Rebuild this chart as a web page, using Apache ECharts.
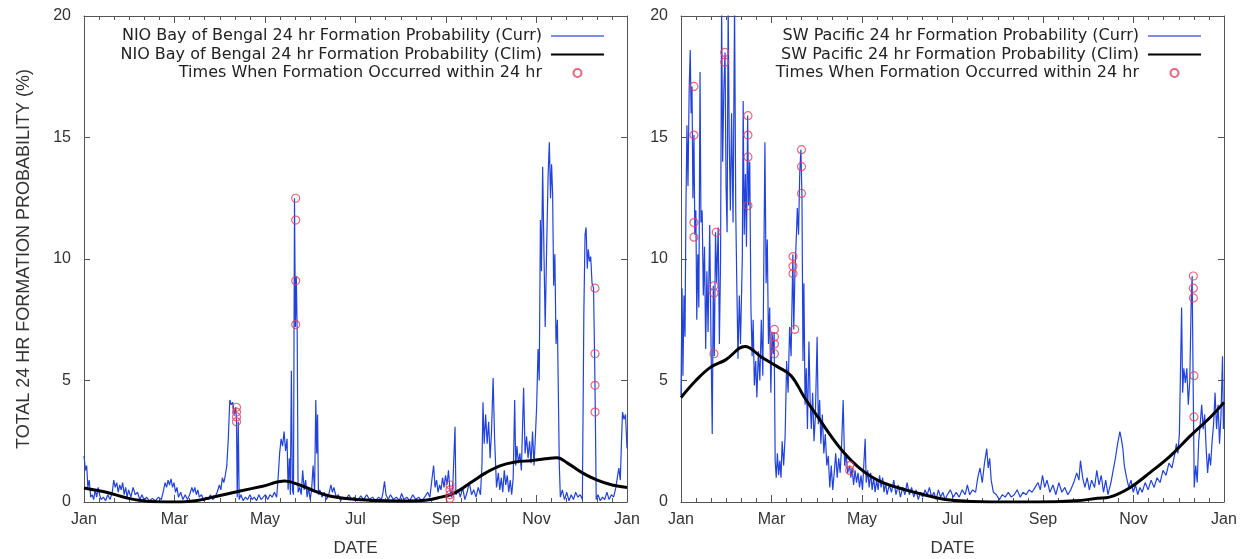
<!DOCTYPE html>
<html>
<head>
<meta charset="utf-8">
<title>24 hr Formation Probability</title>
<script src="https://cdn.jsdelivr.net/npm/echarts@6.0.0/dist/echarts.min.js"></script>
<style>
  html, body { margin: 0; padding: 0; background: #fff; }
  #chart { width: 1245px; height: 559px; }
</style>
</head>
<body>
<div id="chart"></div>
<script>
  // [day of year, probability %]
  const nioCurr = [
    [0, 1.9], [1, 1.3], [1.8, 1.5], [2.6, 0.6], [3.5, 0.9], [4.5, 0.2], [5.5, 0.3], [6.5, 0.1], [7.5, 0.5], [8.5, 0.2],
    [9.5, 0.6], [10.5, 0.3], [11.5, 0.1], [13, 0.2], [14.5, 0.05], [16, 0.3], [17.5, 0.1], [19, 0.4], [20, 0.9], [21, 0.6],
    [22, 0.8], [23, 0.4], [24, 0.7], [25, 0.5], [26, 0.8], [27, 0.3], [28, 0.6], [29, 0.2], [30, 0.5], [31.5, 0.2],
    [33, 0.6], [34.5, 0.3], [36, 0.4], [37.5, 0.1], [39, 0.3], [40.5, 0.05], [42, 0.2], [44, 0.05], [46, 0.15], [48, 0.05],
    [50, 0.2], [52, 0.1], [53.5, 0.5], [54.5, 0.8], [55.5, 0.6], [56.5, 0.9], [57.5, 0.7], [58.5, 0.95], [59.5, 0.6], [60.5, 0.8],
    [61.5, 0.4], [62.5, 0.6], [63.5, 0.2], [65, 0.4], [66.5, 0.1], [68, 0.3], [69.5, 0.1], [71, 0.3], [72.5, 0.6], [73.5, 0.4],
    [74.5, 0.6], [75.5, 0.3], [76.5, 0.5], [77.5, 0.2], [79, 0.3], [80.5, 0.05], [82, 0.2], [83.5, 0.1], [85, 0.3], [86.5, 0.1],
    [88, 0.2], [89.5, 0.4], [91, 0.7], [92, 0.5], [93, 1.0], [94, 0.8], [95, 1.1], [96, 1.5], [97, 2.6], [98, 4.2],
    [99, 4.0], [100, 4.1], [101, 3.6], [102, 3.9], [102.5, 3.4], [103, 0.2], [103.7, 3.3], [104.3, 0.1], [105.5, 0.3], [107, 0.05],
    [108.5, 0.2], [110, 0.1], [111.5, 0.3], [113, 0.1], [114.5, 0.2], [116, 0.05], [117.5, 0.3], [119, 0.1], [120.5, 0.2], [122, 0.3],
    [123.5, 0.1], [125, 0.3], [126.5, 0.2], [128, 0.4], [129.5, 0.2], [130.5, 1.0], [131.5, 2.0], [132.5, 2.6], [133.5, 2.3], [134.5, 2.9],
    [135.5, 2.1], [136.5, 2.6], [137.2, 0.5], [138, 1.8], [138.7, 0.3], [139.4, 5.4], [140.1, 0.5], [140.8, 0.3], [141.5, 12.5], [142.1, 7.2],
    [142.7, 9.3], [143.3, 7.0], [143.9, 0.4], [145, 0.6], [146, 0.3], [147, 1.3], [148, 0.5], [149, 0.9], [150, 0.2], [151, 0.6],
    [152, 0.1], [153, 0.5], [154, 1.5], [155, 0.4], [155.8, 4.2], [156.4, 2.0], [157, 3.6], [157.6, 0.3], [158.5, 0.5], [160, 0.2],
    [161.5, 0.4], [163, 0.1], [164.5, 0.3], [166, 0.7], [167, 0.4], [168, 0.6], [169.5, 0.2], [171, 0.3], [172.5, 0.05], [174, 0.2],
    [176, 0.1], [178, 0.3], [180, 0.1], [182, 0.2], [184, 0.05], [186, 0.25], [188, 0.1], [190, 0.3], [192, 0.1], [194, 0.2],
    [196, 0.05], [198, 0.2], [200, 0.1], [201, 0.4], [202, 0.85], [203, 0.3], [204.5, 0.1], [206, 0.3], [208, 0.1], [210, 0.2],
    [212, 0.05], [213.5, 0.35], [215, 0.1], [217, 0.2], [219, 0.05], [221, 0.3], [223, 0.1], [225, 0.2], [227, 0.05], [229, 0.2],
    [231, 0.4], [232.5, 0.2], [234, 1.0], [235, 1.5], [236, 0.6], [237, 0.9], [238, 0.4], [239, 0.7], [240, 0.5], [241, 1.0],
    [242, 0.6], [243, 1.1], [244, 0.7], [245, 1.3], [246, 0.5], [247, 0.2], [248, 0.8], [249.4, 3.1], [250, 0.3], [251.5, 0.5],
    [253, 0.2], [254.5, 0.6], [256, 0.1], [257.5, 0.4], [259, 0.8], [260.5, 0.3], [262, 0.5], [263.5, 0.2], [265, 0.6], [266.5, 0.3],
    [267.5, 1.5], [268.2, 4.1], [269, 2.4], [270, 3.6], [271, 2.4], [272, 3.3], [273, 1.8], [274, 3.0], [275, 5.1], [276, 2.6],
    [277.3, 0.6], [278.5, 1.2], [279.5, 0.5], [280.5, 1.0], [281.5, 0.4], [282.5, 1.3], [283.5, 0.7], [284.5, 1.1], [285.5, 0.4], [286.5, 0.9],
    [287.5, 0.3], [288.5, 1.0], [289.5, 4.2], [290.2, 1.5], [291, 2.3], [292, 1.6], [293, 2.0], [294, 1.3], [295.5, 4.7], [296.5, 2.0],
    [297.5, 2.7], [298.5, 1.8], [299.5, 2.5], [300.5, 1.6], [301.5, 2.9], [302.5, 1.5], [303.5, 2.8], [304.3, 4.0], [305.2, 6.3], [306, 5.0],
    [306.8, 11.6], [307.5, 9.5], [308.3, 13.8], [309.2, 10.2], [310, 7.2], [311, 10.5], [312, 13.5], [312.8, 14.8], [313.6, 12.5], [314.3, 13.9],
    [315, 12.7], [315.7, 8.9], [316.5, 10.2], [317.3, 6.5], [318.2, 7.5], [318.8, 4.7], [319.5, 1.5], [320.2, 0.2], [321.5, 0.5], [323, 0.1],
    [324.5, 0.4], [326, 0.05], [327.5, 0.3], [329, 0.1], [330.5, 0.4], [332, 0.2], [333.5, 0.3], [335, 0.1], [336, 7.8], [336.8, 11.0],
    [337.5, 11.3], [338.3, 9.6], [339, 10.4], [339.8, 9.9], [340.6, 10.1], [341.5, 9.0], [342.5, 8.8], [343.2, 6.1], [343.7, 3.7], [344.3, 0.1],
    [345.5, 0.3], [347, 0.05], [348.5, 0.2], [350, 0.1], [351.5, 0.4], [353, 0.1], [354.5, 0.3], [356, 0.2], [357.5, 0.6], [358.5, 1.0],
    [359.5, 1.4], [360.5, 0.9], [361.3, 2.5], [362, 3.7], [363, 3.4], [364, 3.6], [365, 2.2]
  ];
  const nioClim = [
    [0, 0.58], [15, 0.4], [30, 0.15], [45, 0.02], [60, 0.0], [75, 0.05], [90, 0.25], [105, 0.45], [120, 0.65], [135, 0.86],
    [145, 0.7], [155, 0.45], [165, 0.25], [180, 0.12], [195, 0.06], [210, 0.04], [225, 0.05], [240, 0.2], [250, 0.4], [260, 0.8],
    [270, 1.2], [280, 1.5], [290, 1.65], [300, 1.7], [310, 1.78], [318, 1.82], [325, 1.6], [335, 1.2], [345, 0.9], [355, 0.7],
    [365, 0.6]
  ];
  const nioHits = [
    [102.5, 3.9], [102.5, 3.7], [102.5, 3.5], [102.5, 3.3],
    [142.3, 12.5], [142.3, 11.6], [142.3, 9.1], [142.3, 7.3],
    [246, 0.7], [246, 0.5], [246, 0.3], [246, 0.15],
    [343.5, 8.8], [343.5, 6.1], [343.5, 4.8], [343.5, 3.7]
  ];

  const swpCurr = [
    [0, 4.4], [0.7, 8.8], [1.3, 5.2], [2, 8.5], [2.7, 6.8], [3.3, 12.0], [4, 15.5], [4.7, 13.0], [5.5, 17.0], [6.2, 18.6],
    [6.8, 16.0], [7.4, 17.1], [8, 12.5], [8.7, 15.1], [9.3, 11.0], [10, 12.0], [10.6, 7.5], [11.3, 10.2], [12, 8.0], [12.8, 17.7],
    [13.4, 11.5], [14.2, 12.0], [15, 8.5], [15.8, 10.5], [16.6, 6.3], [17.4, 9.5], [18.2, 7.0], [19.3, 11.4], [20.2, 6.5], [21, 2.8],
    [21.7, 8.9], [22.4, 6.0], [23.2, 11.1], [24, 9.0], [25, 11.3], [25.8, 6.5], [26.6, 10.0], [27.3, 20.5], [28, 14.0], [28.8, 17.0],
    [29.6, 18.5], [30.3, 13.0], [31, 11.1], [31.7, 20.5], [32.4, 15.0], [33.2, 12.0], [34, 16.0], [35, 11.5], [36, 20.5], [36.8, 12.0],
    [37.5, 9.0], [38.3, 5.9], [39.2, 8.5], [40, 6.5], [41.2, 10.0], [41.8, 16.5], [42.5, 11.0], [43.3, 13.5], [44, 10.5], [44.8, 15.9],
    [45.4, 12.2], [46.2, 14.0], [47, 8.0], [47.8, 6.0], [48.5, 7.5], [49.3, 4.8], [50.2, 5.8], [51, 4.3], [52, 6.2], [53, 5.0],
    [54, 7.5], [55, 5.2], [56.4, 14.8], [57.2, 9.0], [58, 10.8], [58.8, 6.5], [59.6, 8.0], [60.4, 4.5], [61.2, 7.0], [62, 6.1],
    [62.6, 7.0], [63.3, 1.7], [64, 1.0], [64.8, 2.0], [65.6, 1.1], [66.4, 1.7], [67.2, 1.0], [68, 2.5], [69, 1.5], [70, 2.7],
    [71, 5.8], [72, 4.5], [73, 7.2], [74, 6.0], [75.2, 10.2], [75.8, 7.1], [76.6, 9.5], [77.4, 10.7], [78.2, 12.1], [79, 11.0],
    [79.8, 13.5], [80.6, 14.5], [81.3, 12.6], [82, 5.8], [82.6, 9.0], [83.4, 4.0], [84.2, 5.5], [85, 3.0], [86, 6.6], [86.8, 4.2],
    [87.6, 3.0], [88.5, 4.5], [89.4, 2.5], [90.3, 3.5], [91.5, 6.8], [92.3, 3.2], [93.2, 4.2], [94, 2.4], [95, 3.6], [96, 2.0],
    [97, 2.8], [98, 1.5], [99, 1.9], [100, 0.6], [101, 1.5], [102, 0.5], [103, 1.2], [104, 2.0], [105, 1.0], [106, 1.8],
    [107, 1.2], [108, 2.4], [109, 4.2], [110, 1.5], [111, 2.0], [112, 1.2], [113.4, 1.5], [114.2, 1.0], [115, 1.4], [116, 0.7],
    [117, 1.3], [118, 0.8], [119, 1.2], [120, 0.6], [121, 1.1], [122, 0.5], [123.8, 2.6], [124.5, 0.8], [125.5, 1.3], [126.5, 0.6],
    [127.5, 1.2], [128.5, 0.5], [129.5, 1.0], [130.5, 0.4], [131.5, 0.9], [132.5, 0.5], [133.5, 1.1], [134.5, 0.6], [135.5, 1.0], [136.5, 0.4],
    [137.5, 0.8], [138.5, 0.3], [140, 0.7], [141.5, 0.4], [143, 0.9], [144.5, 0.3], [146, 0.7], [147.5, 0.2], [149, 0.6], [150.5, 0.3],
    [152, 0.8], [153.5, 0.3], [155, 0.6], [156.5, 0.2], [158, 0.5], [159.5, 0.1], [161, 0.4], [162.5, 0.2], [164, 0.5], [165.5, 0.3],
    [167, 0.6], [168.5, 0.2], [170, 0.4], [171.5, 0.1], [173, 0.5], [174.5, 0.2], [176, 0.4], [177.5, 0.1], [179, 0.3], [181, 0.5],
    [183, 0.2], [185, 0.4], [187, 0.2], [189, 0.5], [191, 0.3], [192.5, 0.7], [194, 0.3], [196, 0.5], [198, 0.4], [199.5, 1.0],
    [201, 1.4], [202.5, 0.8], [204, 1.6], [205.5, 2.2], [206.5, 1.4], [207.5, 1.8], [208.5, 0.9], [210, 0.4], [212, 0.3], [214, 0.1],
    [216, 0.3], [218, 0.2], [220, 0.4], [222, 0.2], [224, 0.3], [226, 0.5], [228, 0.2], [230, 0.4], [232, 0.3], [234, 0.5],
    [236, 0.4], [238, 0.6], [240, 0.8], [241.5, 0.5], [243, 1.1], [244.5, 0.6], [246, 0.9], [248, 0.4], [250, 0.7], [252, 0.3],
    [254, 0.8], [256, 0.4], [258, 0.6], [260, 0.3], [262, 0.5], [264, 0.8], [266, 1.2], [267.5, 0.9], [268.5, 1.7], [270, 1.0],
    [271.5, 0.6], [273, 1.0], [274.5, 0.5], [276, 0.9], [278, 0.6], [279.5, 1.3], [281, 0.7], [282.5, 1.1], [284, 0.4], [285.5, 0.9],
    [287, 0.3], [289, 0.8], [290.5, 1.3], [292, 1.8], [293.5, 2.4], [295, 2.9], [296, 2.6], [297, 2.2], [298, 1.5], [299.5, 1.0],
    [301, 0.6], [302.5, 0.9], [304, 0.4], [305.5, 0.7], [307, 0.3], [308.5, 0.6], [310, 0.4], [312, 0.8], [314, 0.5], [316, 0.9],
    [318, 0.6], [320, 1.0], [322, 0.8], [324, 1.3], [326, 1.1], [328, 1.6], [330, 1.4], [332, 2.0], [333, 2.4], [334, 2.0],
    [335, 2.8], [336.5, 8.0], [337.2, 4.5], [338, 5.5], [339, 4.9], [340, 5.5], [341, 4.0], [342, 5.0], [343, 8.4], [343.6, 9.3],
    [344.2, 5.2], [345, 0.6], [346, 1.5], [347, 0.8], [348, 2.5], [349, 3.2], [350, 4.0], [351, 3.0], [352, 3.6], [353, 2.2],
    [354, 1.2], [355, 2.0], [356, 1.5], [357, 2.5], [358, 3.2], [359, 4.5], [360, 3.0], [361, 4.0], [362, 2.4], [363, 3.6],
    [364, 6.0], [364.6, 3.0], [365, 4.0]
  ];
  const swpClim = [
    [0, 4.3], [10, 5.0], [20, 5.55], [30, 5.85], [43, 6.4], [54, 5.97], [65, 5.56], [74, 5.2], [83, 4.3], [92, 3.5],
    [101, 2.7], [110, 2.0], [119, 1.45], [128, 1.04], [137, 0.77], [151, 0.5], [164, 0.29], [173, 0.16], [181, 0.08], [195, 0.02],
    [208, 0.0], [240, 0.0], [265, 0.05], [280, 0.15], [288, 0.2], [302, 0.6], [315, 1.2], [329, 1.9], [342, 2.7], [356, 3.5],
    [365, 4.1]
  ];
  const swpHits = [
    [8.7, 17.1], [8.7, 15.1], [8.7, 11.5], [8.7, 10.9],
    [22.2, 8.9], [22.2, 8.6], [22.2, 6.1], [23.7, 11.1],
    [29.4, 18.5], [29.4, 18.1],
    [45, 15.9], [45, 15.1], [45, 14.2], [45, 12.2],
    [62.8, 7.1], [62.8, 6.8], [62.8, 6.5], [62.8, 6.1],
    [75.3, 10.1], [75.3, 9.7], [75.3, 9.4], [76.4, 7.1],
    [81, 14.5], [81, 13.8], [81, 12.7],
    [113.4, 1.5], [113.4, 1.3],
    [344.4, 9.3], [344.4, 8.8], [344.4, 8.4], [344.8, 5.2], [344.8, 3.5]
  ];

  const monthLabels = ['Jan', 'Mar', 'May', 'Jul', 'Sep', 'Nov', 'Jan'];

  const nioCurrName = 'NIO Bay of Bengal 24 hr Formation Probability (Curr)';
  const nioClimName = 'NIO Bay of Bengal 24 hr Formation Probability (Clim)';
  const swpCurrName = 'SW Pacific 24 hr Formation Probability (Curr)';
  const swpClimName = 'SW Pacific 24 hr Formation Probability (Clim)';
  const hitName = 'Times When Formation Occurred within 24 hr';

  const AXIS_COLOR = '#555';
  const TEXT_COLOR = '#333';
  const LABEL_FONT = 'Liberation Sans';
  const BLUE = '#2142dc';
  const RED = '#e0405e';
  const STEP = 365 / 6;

  function xAxisFor(grid, pos) {
    return {
      type: 'value', gridIndex: grid, position: pos,
      min: 0, max: 365, interval: STEP,
      axisLine: { show: true, onZero: false, lineStyle: { color: AXIS_COLOR } },
      axisTick: { show: true, inside: true, length: 7, lineStyle: { color: AXIS_COLOR } },
      minorTick: { show: true, splitNumber: 6, length: 4, lineStyle: { color: AXIS_COLOR } },
      splitLine: { show: false },
      axisLabel: {
        show: pos === 'bottom', color: TEXT_COLOR, fontFamily: LABEL_FONT, fontSize: 16, margin: 10,
        formatter: v => monthLabels[Math.round(v / STEP)]
      },
      name: pos === 'bottom' ? 'DATE' : '', nameLocation: 'middle', nameGap: 38,
      nameTextStyle: { color: TEXT_COLOR, fontFamily: LABEL_FONT, fontSize: 17 }
    };
  }

  function yAxisFor(grid, pos, title) {
    return {
      type: 'value', gridIndex: grid, position: pos,
      min: 0, max: 20, interval: 5,
      axisLine: { show: true, onZero: false, lineStyle: { color: AXIS_COLOR } },
      axisTick: { show: true, inside: true, length: 6, lineStyle: { color: AXIS_COLOR } },
      splitLine: { show: false },
      axisLabel: { show: pos === 'left', color: TEXT_COLOR, fontFamily: LABEL_FONT, fontSize: 16, margin: 13 },
      name: title || '', nameLocation: 'middle', nameGap: 51, nameRotate: 90,
      nameTextStyle: { color: TEXT_COLOR, fontFamily: LABEL_FONT, fontSize: 18 }
    };
  }

  // icon sits right of the text, like the original key
  function legendFor(right, currName, climName) {
    return {
      orient: 'vertical', right: right, top: 28, align: 'right', padding: 0,
      itemWidth: 53, itemHeight: 8, itemGap: 2.5, selectedMode: false,
      textStyle: { fontFamily: 'DejaVu Sans', fontSize: 16, color: '#222', padding: [0, 4, 0, 0] },
      data: [
        { name: currName, itemStyle: { opacity: 0 }, lineStyle: { color: '#7d8de4', width: 2 } },
        { name: climName, itemStyle: { opacity: 0 } },
        { name: hitName }
      ]
    };
  }

  function panelSeries(ax, currName, climName, curr, clim, hits) {
    return [{
      name: currName, type: 'line', xAxisIndex: ax, yAxisIndex: ax, data: curr,
      symbol: 'none', lineStyle: { color: BLUE, width: 1.2 }, itemStyle: { color: BLUE }, z: 2
    }, {
      name: climName, type: 'line', xAxisIndex: ax, yAxisIndex: ax, data: clim, smooth: 0.4,
      symbol: 'none', lineStyle: { color: '#000', width: 3 }, itemStyle: { color: '#000' }, z: 3
    }, {
      name: hitName, type: 'scatter', xAxisIndex: ax, yAxisIndex: ax, data: hits,
      symbol: 'circle', symbolSize: 8,
      itemStyle: { color: 'rgba(0,0,0,0)', borderColor: RED, borderWidth: 1.2 }, z: 4
    }];
  }

  const chart = echarts.init(document.getElementById('chart'));
  chart.setOption({
    animation: false,
    backgroundColor: '#fff',
    grid: [
      { left: 84, top: 16, width: 543, height: 486, containLabel: false, outerBoundsMode: 'none' },
      { left: 681, top: 16, width: 543, height: 486, containLabel: false, outerBoundsMode: 'none' }
    ],
    xAxis: [xAxisFor(0, 'bottom'), xAxisFor(0, 'top'), xAxisFor(1, 'bottom'), xAxisFor(1, 'top')],
    yAxis: [
      yAxisFor(0, 'left', 'TOTAL 24 HR FORMATION PROBABILITY (%)'), yAxisFor(0, 'right'),
      yAxisFor(1, 'left'), yAxisFor(1, 'right')
    ],
    legend: [
      legendFor(640, nioCurrName, nioClimName),
      legendFor(43, swpCurrName, swpClimName)
    ],
    series: panelSeries(0, nioCurrName, nioClimName, nioCurr, nioClim, nioHits)
      .concat(panelSeries(2, swpCurrName, swpClimName, swpCurr, swpClim, swpHits))
  });
</script>
</body>
</html>
